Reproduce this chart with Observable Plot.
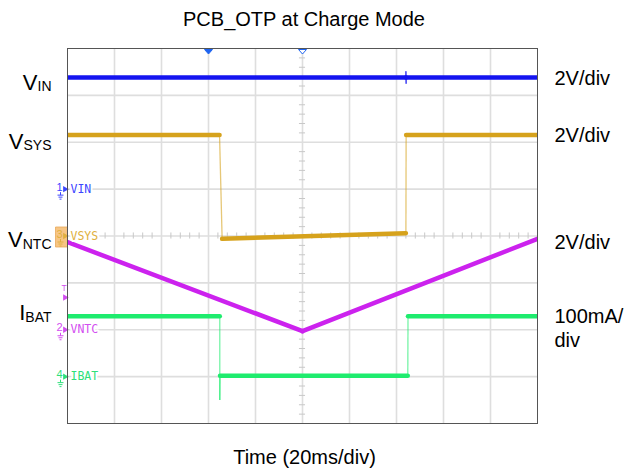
<!DOCTYPE html>
<html><head><meta charset="utf-8">
<script src="https://cdn.jsdelivr.net/npm/d3@7"></script>
<script src="https://cdn.jsdelivr.net/npm/@observablehq/plot@0.6"></script>
<style>
html,body{margin:0;padding:0;background:#fff;}
#chart{width:628px;height:473px;}
</style></head><body><div id="chart"></div>
<script>
// ---------- data ----------
const chartTitle = "PCB_OTP at Charge Mode";
const timeLabel = "Time (20ms/div)";
const timeDomain = [0, 200];          // ms (10 div x 20 ms)
const divDomain = [0, 8];             // vertical divisions
const gridTimes = [20, 40, 60, 80, 100, 120, 140, 160, 180];
const gridDivs = [1, 2, 3, 4, 5, 6, 7];

const channelNames   = ["VIN", "VSYS", "VNTC", "IBAT"];
const channelMains   = ["V", "V", "V", "I"];
const channelSubs    = ["IN", "SYS", "NTC", "BAT"];
const channelNumbers = ["1", "3", "2", "4"];
const channelScales  = [2, 2, 2, 100];          // V/div, V/div, V/div, mA/div
const channelScaleText = ["2V/div", "2V/div", "2V/div", "100mA/\ndiv"];
const channelGround  = [5, 4, 2, 1];            // ground marker, divisions from bottom
const channelSelected = [false, true, false, false];

// traces (time in ms, value in V or mA)
const vinTime  = [0, 144.0, 144.0, 144.1, 144.1, 200];
const vinValue = [4.76, 4.76, 5.03, 4.50, 4.76, 4.76];
const vsysTime  = [0, 64.7, 65.8, 144.0, 144.1, 200];
const vsysValue = [4.31, 4.31, -0.12, 0.12, 4.31, 4.31];
const vntcTime  = [0, 100, 200];
const vntcValue = [3.74, -0.06, 3.88];
const ibatTime  = [0, 64.8, 64.8, 64.9, 144.8, 144.9, 200];
const ibatValue = [129, 129, -50, 2, 2, 129, 129];

const triggerLevel = 1.38;            // V, on VNTC channel
const triggerChannel = 2;
const topMarkerTimes = [60, 100];
const topMarkerFilled = [true, false];

// ---------- styles ----------
const traceColors = ["#1414f0", "#d6a21c", "#cc22ee", "#1eec6e"];
const labelColors = ["#3c46ff", "#e0b040", "#d24ef0", "#2ee07a"];
const nameDy = [12, 14, 5, 4];
const font = "Arial, 'Liberation Sans', sans-serif";

// ---------- build ----------
const traceTimes = [vinTime, vsysTime, vntcTime, ibatTime];
const traceValues = [vinValue, vsysValue, vntcValue, ibatValue];
const toDiv = (ch, v) => channelGround[ch] + v / channelScales[ch];

const levelSegs = [], edgeSegs = [];
traceTimes.forEach((ts, ch) => {
  for (let k = 1; k < ts.length; k++) {
    const seg = {ch, t1: ts[k - 1], t2: ts[k],
      y1: toDiv(ch, traceValues[ch][k - 1]), y2: toDiv(ch, traceValues[ch][k])};
    (ts[k] - ts[k - 1] < 1.5 ? edgeSegs : levelSegs).push(seg);
  }
});

const channels = channelNames.map((name, ch) => ({
  ch, name, main: channelMains[ch], sub: channelSubs[ch], num: channelNumbers[ch],
  ground: channelGround[ch], first: toDiv(ch, traceValues[ch][0]),
  scaleText: channelScaleText[ch], selected: channelSelected[ch]
}));

const minorY = d3.range(1, 40).map(k => k / 5).filter(v => Math.abs(v - Math.round(v)) > 1e-6);
const minorX = d3.range(1, 50).map(k => k * 4).filter(v => v % 20 !== 0);

const groundSymbol = {draw(ctx) {
  ctx.moveTo(0, -3); ctx.lineTo(0, 0);
  ctx.moveTo(-3, 0); ctx.lineTo(3, 0);
  ctx.moveTo(-2, 2); ctx.lineTo(2, 2);
  ctx.moveTo(-1, 4); ctx.lineTo(1, 4);
}};
const boxSymbol = {draw(ctx) { ctx.rect(-6, -9, 12, 20); }};
const downTri = {draw(ctx) { ctx.moveTo(-4, 0); ctx.lineTo(4, 0); ctx.lineTo(0, 4.5); ctx.closePath(); }};

const plot = Plot.plot({
  width: 628, height: 473,
  marginLeft: 67, marginRight: 91, marginTop: 48, marginBottom: 50,
  x: {domain: timeDomain, axis: null},
  y: {domain: divDomain, axis: null},
  color: {type: "identity"},
  style: {fontFamily: font, background: "#fff", overflow: "visible"},
  marks: [
    // graticule
    Plot.ruleX(gridTimes, {stroke: "#dedede", strokeWidth: 1.6}),
    Plot.ruleY(gridDivs, {stroke: "#dedede", strokeWidth: 1.6}),
    Plot.ruleY(minorY, {y: d => d, x1: 100 - 1.3, x2: 100 + 1.3, stroke: "#c8c8c8", strokeWidth: 1}),
    Plot.ruleX(minorX, {x: d => d, y1: 4 - 0.065, y2: 4 + 0.065, stroke: "#c8c8c8", strokeWidth: 1}),
    // traces
    Plot.link(edgeSegs, {x1: "t1", x2: "t2", y1: "y1", y2: "y2",
      stroke: d => traceColors[d.ch], strokeWidth: 1.3, strokeOpacity: 0.6}),
    Plot.link(levelSegs, {x1: "t1", x2: "t2", y1: "y1", y2: "y2",
      stroke: d => traceColors[d.ch], strokeWidth: 4.5, strokeLinecap: "round", clip: true}),
    // channel markers on left edge
    Plot.dot(channels.filter(d => d.selected), {frameAnchor: "left", y: "ground", dx: -6, symbol: boxSymbol,
      fill: "#f7c584", stroke: "#e9a95a", strokeWidth: 0.8}),
    Plot.text(channels, {frameAnchor: "left", y: "ground", text: "num", dx: -8, dy: -2,
      fontSize: 11, fill: d => labelColors[d.ch], textAnchor: "middle"}),
    Plot.dot(channels, {frameAnchor: "left", y: "ground", dx: -7, dy: 6, symbol: groundSymbol,
      stroke: d => labelColors[d.ch], strokeWidth: 1, fill: "none"}),
    Plot.dot(channels, {frameAnchor: "left", y: "ground", dx: -2.5, symbol: "triangle", rotate: 90, r: 2.4,
      fill: d => labelColors[d.ch], stroke: "none"}),
    Plot.text(channels, {frameAnchor: "left", y: "ground", text: "name", dx: 3, textAnchor: "start",
      fontFamily: "'DejaVu Sans Mono', monospace", fontSize: 11.5, fill: d => labelColors[d.ch],
      stroke: "#fff", strokeWidth: 4, paintOrder: "stroke"}),
    // trigger level marker
    Plot.dot([toDiv(triggerChannel, triggerLevel)], {frameAnchor: "left", y: d => d, dx: -2.5,
      symbol: "triangle", rotate: 90, r: 2.4, fill: labelColors[triggerChannel], stroke: "none"}),
    Plot.text([toDiv(triggerChannel, triggerLevel)], {frameAnchor: "left", y: d => d, text: () => "T",
      dx: -3.5, dy: -9, fontSize: 8.5, fill: labelColors[triggerChannel], textAnchor: "middle"}),
    // top time markers
    Plot.dot(topMarkerTimes, {x: d => d, frameAnchor: "top", dy: 1, symbol: downTri,
      fill: (d, i) => topMarkerFilled[i] ? "#1e64f0" : "#fff", stroke: "#1e64f0", strokeWidth: 1}),
    // frame
    Plot.frame({stroke: "#555", strokeWidth: 1}),
    // signal names (left)
    Plot.text(channels, {frameAnchor: "left", y: "first", text: d => d.main + d.sub, dx: -16,
      textAnchor: "end", lineAnchor: "bottom", fontSize: 22, fill: "#000"}),
    // scales (right)
    Plot.text(channels, {frameAnchor: "right", y: "first", text: "scaleText", dx: 17, dy: -10,
      textAnchor: "start", lineAnchor: "top", lineHeight: 1.2, fontSize: 20, fill: "#000"}),
    // title and time label
    Plot.text([chartTitle], {frameAnchor: "top", text: d => d, dx: 1.5, dy: -23, lineAnchor: "bottom",
      fontSize: 20, fill: "#000"}),
    Plot.text([timeLabel], {frameAnchor: "bottom", text: d => d, dx: 2, dy: 40, lineAnchor: "bottom",
      fontSize: 20, fill: "#000"})
  ]
});

// subscripts for signal names + per-label vertical offset
const nameTexts = Array.from(plot.querySelectorAll("text"))
  .filter(el => el.closest('[font-size="22"]'));
nameTexts.forEach((el, k) => {
  const t = d3.select(el);
  t.attr("y", nameDy[k]);
  t.text(null);
  t.append("tspan").text(channelMains[k]);
  t.append("tspan").attr("font-size", 14).attr("dy", 1.5).text(channelSubs[k]);
});

document.getElementById("chart").appendChild(plot);
</script></body></html>
